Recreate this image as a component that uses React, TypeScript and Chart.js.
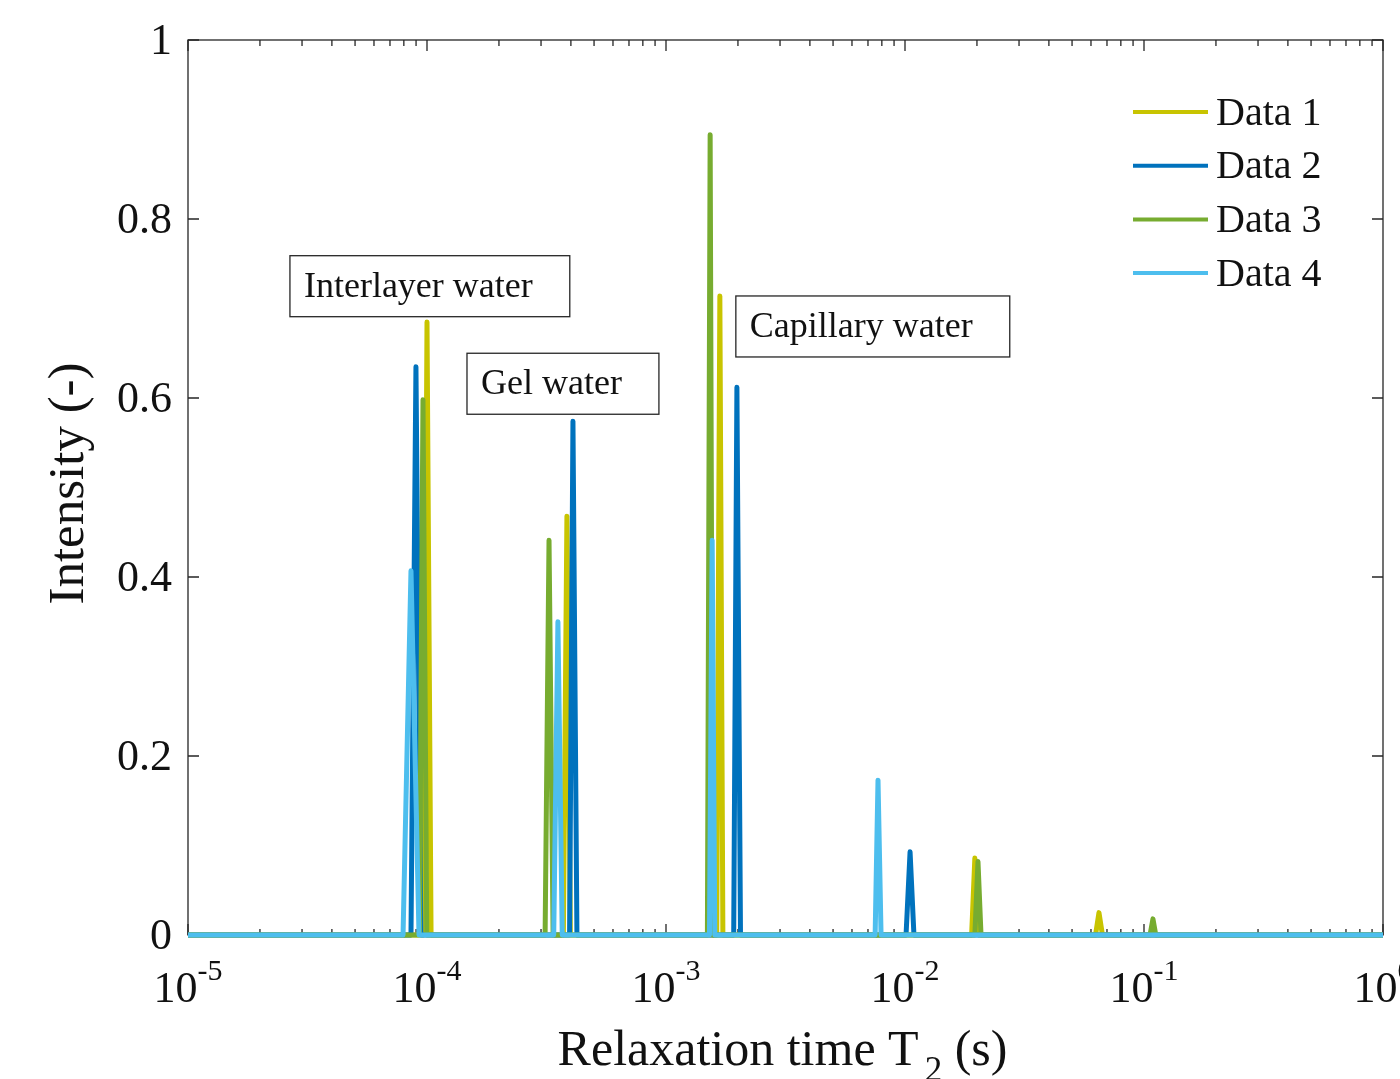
import React, { useEffect, useRef } from "react";
import { Chart, registerables } from "chart.js";

Chart.register(...registerables);

// ---------- data ----------
const SERIES_LABELS = ["Data 1", "Data 2", "Data 3", "Data 4"];
const SERIES_COLORS = ["#c8c400", "#0072bd", "#77ac30", "#4dbeee"];

// Relaxation time T2 (s) and intensity for each series
const data1T = [1e-5, 9.67e-5, 1.0e-4, 1.04e-4, 3.72e-4, 3.85e-4, 3.98e-4, 1.63e-3, 1.68e-3, 1.73e-3, 1.9e-2, 1.96e-2, 2.03e-2, 6.27e-2, 6.48e-2, 6.7e-2, 1];
const data1I = [0, 0, 0.685, 0, 0, 0.468, 0, 0, 0.714, 0, 0, 0.086, 0, 0, 0.025, 0, 0];

const data2T = [1e-5, 8.57e-5, 8.99e-5, 9.43e-5, 3.95e-4, 4.08e-4, 4.24e-4, 1.92e-3, 1.98e-3, 2.05e-3, 1.01e-2, 1.05e-2, 1.09e-2, 1];
const data2I = [0, 0, 0.635, 0, 0, 0.574, 0, 0, 0.612, 0, 0, 0.093, 0, 0];

const data3T = [1e-5, 9.3e-5, 9.62e-5, 9.98e-5, 3.12e-4, 3.24e-4, 3.37e-4, 1.49e-3, 1.53e-3, 1.57e-3, 1.96e-2, 2.02e-2, 2.08e-2, 0.106, 0.109, 0.112, 1];
const data3I = [0, 0, 0.598, 0, 0, 0.441, 0, 0, 0.894, 0, 0, 0.082, 0, 0, 0.018, 0, 0];

const data4T = [1e-5, 7.94e-5, 8.57e-5, 9.26e-5, 3.39e-4, 3.53e-4, 3.68e-4, 1.52e-3, 1.56e-3, 1.6e-3, 7.5e-3, 7.71e-3, 7.94e-3, 1];
const data4I = [0, 0, 0.407, 0, 0, 0.35, 0, 0, 0.441, 0, 0, 0.173, 0, 0];

const X_TICKS = [1e-5, 1e-4, 1e-3, 1e-2, 1e-1, 1];
const X_TICK_EXPONENTS = ["-5", "-4", "-3", "-2", "-1", "0"];
const Y_TICKS = [0, 0.2, 0.4, 0.6, 0.8, 1];
const Y_TICK_LABELS = ["0", "0.2", "0.4", "0.6", "0.8", "1"];

const ANNOT_TEXT = ["Interlayer water", "Gel water", "Capillary water"];
const ANNOT_X = [2.67e-5, 1.47e-4, 1.96e-3];
const ANNOT_Y = [0.759, 0.65, 0.714];

const X_TITLE_MAIN = "Relaxation time T";
const X_TITLE_SUB = "2";
const X_TITLE_END = " (s)";
const Y_TITLE = "Intensity (-)";

// ---------- styling ----------
const FONT = '"Liberation Serif", "Times New Roman", Times, serif';
const INK = "#262626";

const decorPlugin = {
  id: "decor",
  beforeDatasetsDraw(chart: any) {
    const { ctx, chartArea: a, scales } = chart;
    const xs = scales.x;
    const ys = scales.y;
    ctx.save();
    ctx.strokeStyle = INK;
    ctx.lineWidth = 1.3;
    ctx.strokeRect(a.left, a.top, a.right - a.left, a.bottom - a.top);
    ctx.beginPath();
    for (let i = 0; i < X_TICKS.length; i++) {
      const v = X_TICKS[i];
      const px = xs.getPixelForValue(v);
      ctx.moveTo(px, a.bottom);
      ctx.lineTo(px, a.bottom - 11);
      ctx.moveTo(px, a.top);
      ctx.lineTo(px, a.top + 11);
      if (i < X_TICKS.length - 1) {
        for (let m = 2; m <= 9; m++) {
          const mp = xs.getPixelForValue(v * m);
          ctx.moveTo(mp, a.bottom);
          ctx.lineTo(mp, a.bottom - 6);
          ctx.moveTo(mp, a.top);
          ctx.lineTo(mp, a.top + 6);
        }
      }
    }
    for (const v of Y_TICKS) {
      const py = ys.getPixelForValue(v);
      ctx.moveTo(a.left, py);
      ctx.lineTo(a.left + 11, py);
      ctx.moveTo(a.right, py);
      ctx.lineTo(a.right - 11, py);
    }
    ctx.stroke();
    ctx.restore();
  },
  afterDatasetsDraw(chart: any) {
    const { ctx, scales } = chart;
    const xs = scales.x;
    const ys = scales.y;
    ctx.save();
    ctx.font = `36px ${FONT}`;
    ctx.textBaseline = "middle";
    for (let i = 0; i < ANNOT_TEXT.length; i++) {
      const bx = xs.getPixelForValue(ANNOT_X[i]);
      const by = ys.getPixelForValue(ANNOT_Y[i]);
      const tw = ctx.measureText(ANNOT_TEXT[i]).width;
      const bw = tw + 14 + 37;
      const bh = 61;
      ctx.fillStyle = "#ffffff";
      ctx.fillRect(bx, by, bw, bh);
      ctx.strokeStyle = INK;
      ctx.lineWidth = 1.3;
      ctx.strokeRect(bx, by, bw, bh);
      ctx.fillStyle = "#111111";
      ctx.fillText(ANNOT_TEXT[i], bx + 14, by + bh / 2 + 1);
    }
    ctx.restore();
  },
  afterDraw(chart: any) {
    const { ctx, chartArea: a, scales } = chart;
    const xs = scales.x;
    const ys = scales.y;
    ctx.save();
    ctx.fillStyle = "#111111";
    for (let i = 0; i < X_TICKS.length; i++) {
      const px = xs.getPixelForValue(X_TICKS[i]);
      ctx.font = `44px ${FONT}`;
      const wb = ctx.measureText("10").width;
      ctx.font = `30px ${FONT}`;
      const we = ctx.measureText(X_TICK_EXPONENTS[i]).width;
      const start = px - (wb + we) / 2;
      ctx.textBaseline = "alphabetic";
      ctx.textAlign = "left";
      ctx.font = `44px ${FONT}`;
      ctx.fillText("10", start, a.bottom + 67);
      ctx.font = `30px ${FONT}`;
      ctx.fillText(X_TICK_EXPONENTS[i], start + wb, a.bottom + 45);
    }
    ctx.font = `44px ${FONT}`;
    ctx.textAlign = "right";
    ctx.textBaseline = "middle";
    for (let i = 0; i < Y_TICKS.length; i++) {
      const py = ys.getPixelForValue(Y_TICKS[i]);
      ctx.fillText(Y_TICK_LABELS[i], a.left - 16, py + 2);
    }
    // x title with subscript
    ctx.textBaseline = "alphabetic";
    ctx.textAlign = "left";
    ctx.font = `50px ${FONT}`;
    const w1 = ctx.measureText(X_TITLE_MAIN).width;
    const w3 = ctx.measureText(X_TITLE_END).width;
    ctx.font = `35px ${FONT}`;
    const w2 = ctx.measureText(X_TITLE_SUB).width;
    const gap = 6;
    const cx = (a.left + a.right) / 2;
    const sx = cx - (w1 + gap + w2 + w3) / 2 - 3;
    const base = a.bottom + 130;
    ctx.font = `50px ${FONT}`;
    ctx.fillText(X_TITLE_MAIN, sx, base);
    ctx.font = `35px ${FONT}`;
    ctx.fillText(X_TITLE_SUB, sx + w1 + gap, base + 16);
    ctx.font = `50px ${FONT}`;
    ctx.fillText(X_TITLE_END, sx + w1 + gap + w2, base);
    // y title
    ctx.save();
    ctx.translate(a.left - 118, (a.top + a.bottom) / 2 - 4);
    ctx.rotate(-Math.PI / 2);
    ctx.textAlign = "center";
    ctx.textBaseline = "middle";
    ctx.font = `51px ${FONT}`;
    ctx.fillText(Y_TITLE, 0, 0);
    ctx.restore();
    // legend
    const lx0 = a.right - 250;
    const lx1 = a.right - 175;
    for (let i = 0; i < SERIES_LABELS.length; i++) {
      const ly = a.top + 72 + i * 53.7;
      ctx.strokeStyle = SERIES_COLORS[i];
      ctx.lineWidth = 4;
      ctx.beginPath();
      ctx.moveTo(lx0, ly);
      ctx.lineTo(lx1, ly);
      ctx.stroke();
      ctx.fillStyle = "#111111";
      ctx.font = `40px ${FONT}`;
      ctx.textAlign = "left";
      ctx.textBaseline = "middle";
      ctx.fillText(SERIES_LABELS[i], a.right - 167, ly + 2);
    }
    ctx.restore();
  },
};

function toPoints(t: number[], v: number[]) {
  return t.map((x, i) => ({ x, y: v[i] }));
}

export default function App() {
  const ref = useRef<HTMLCanvasElement | null>(null);
  useEffect(() => {
    if (!ref.current) return;
    const series = [
      toPoints(data1T, data1I),
      toPoints(data2T, data2I),
      toPoints(data3T, data3I),
      toPoints(data4T, data4I),
    ];
    const chart = new Chart(ref.current, {
      type: "line",
      data: {
        datasets: series.map((pts, i) => ({
          label: SERIES_LABELS[i],
          data: pts,
          borderColor: SERIES_COLORS[i],
          backgroundColor: SERIES_COLORS[i],
          borderWidth: 5,
          pointRadius: 0,
          tension: 0,
          fill: false,
          clip: false as any,
          borderJoinStyle: "round" as any,
          order: SERIES_LABELS.length - i,
        })),
      },
      options: {
        responsive: false,
        animation: false,
        layout: { padding: { left: 0, right: 17, top: 40, bottom: 0 } },
        plugins: { legend: { display: false }, tooltip: { enabled: false } },
        scales: {
          x: {
            type: "logarithmic",
            min: 1e-5,
            max: 1,
            ticks: { display: false },
            grid: { display: false },
            border: { display: false },
            afterFit: (s: any) => {
              s.height = 144;
            },
          },
          y: {
            type: "linear",
            min: 0,
            max: 1,
            ticks: { display: false },
            grid: { display: false },
            border: { display: false },
            afterFit: (s: any) => {
              s.width = 188;
            },
          },
        },
      } as any,
      plugins: [decorPlugin],
    });
    return () => chart.destroy();
  }, []);
  return (
    <div style={{ position: "absolute", left: 0, top: 0, width: 1400, height: 1079, background: "#fff" }}>
      <canvas ref={ref} width={1400} height={1079} style={{ display: "block" }} />
    </div>
  );
}
